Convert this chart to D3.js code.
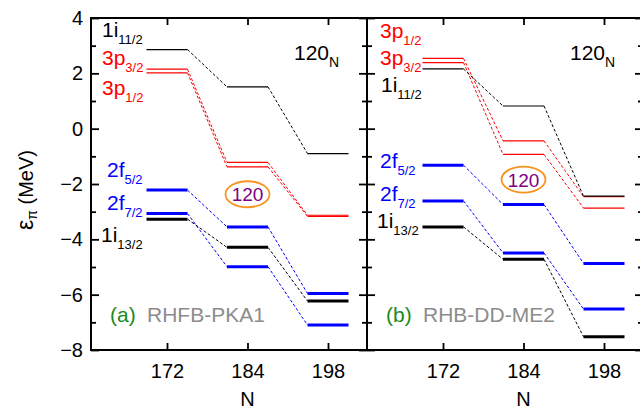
<!DOCTYPE html>
<html>
<head>
<meta charset="utf-8">
<script src="https://cdn.jsdelivr.net/npm/d3@7/dist/d3.min.js"></script>
<style>
body { margin: 0; background: #fff; }
svg text { font-family: "Liberation Sans", Arial, sans-serif; }
</style>
</head>
<body>
<svg id="chart" width="640" height="410"></svg>
<script>
// neutron numbers on the x axis
const nuclei = ['172', '184', '198'];
const yMajor = [-8, -6, -4, -2, 0, 2, 4];
const yMinor = [-7, -5, -3, -1, 1, 3];

// (a) RHFB-PKA1 single-proton levels (MeV)
const orbitalsA = ['1i11/2', '3p3/2', '3p1/2', '2f5/2', '2f7/2', '1i13/2'];
const energiesA = [
    [2.86, 1.51, -0.90],
    [2.15, -1.22, -3.13],
    [2.02, -1.38, -3.17],
    [-2.22, -3.55, -5.96],
    [-3.07, -4.99, -7.10],
    [-3.27, -4.29, -6.23]
];

// (b) RHB-DD-ME2
const orbitalsB = ['3p1/2', '3p3/2', '1i11/2', '2f5/2', '2f7/2', '1i13/2'];
const energiesB = [
    [2.54, -0.44, -2.46],
    [2.39, -0.93, -2.87],
    [2.16, 0.82, -2.44],
    [-1.32, -2.74, -4.87],
    [-2.61, -4.49, -6.52],
    [-3.55, -4.72, -7.52]
];

const panelTags = ['(a)', '(b)'];
const panelNames = ['RHFB-PKA1', 'RHB-DD-ME2'];

const levelStyle = {
    '1i11/2': {color: '#000', width: 1.2},
    '3p3/2': {color: '#ff0000', width: 1.2},
    '3p1/2': {color: '#ff0000', width: 1.2},
    '2f5/2': {color: '#0000ff', width: 3},
    '2f7/2': {color: '#0000ff', width: 3},
    '1i13/2': {color: '#000', width: 3}
};

// label anchor points (x, baseline y) in pixels
const labelPos = [
    {'1i11/2': [102, 37], '3p3/2': [102, 65], '3p1/2': [102, 95],
     '2f5/2': [107, 177], '2f7/2': [107, 210], '1i13/2': [101, 242]},
    {'3p1/2': [380, 38], '3p3/2': [380, 65], '1i11/2': [381, 92],
     '2f5/2': [380, 168], '2f7/2': [380, 201], '1i13/2': [377, 228]}
];

const svg = d3.select('#chart');
const top_y = 18, bottom_y = 350;
const y = d3.scaleLinear().domain([-8, 4]).range([bottom_y, top_y]);
const panels = [{left: 91, width: 276}, {left: 367, width: 276}];
const half_w = 20.5;

function style_axis(g) {
    g.select('.domain').remove();
    g.selectAll('.tick line').attr('stroke', '#000').attr('stroke-width', 1.8);
    g.selectAll('.tick text').attr('fill', '#000').attr('font-size', 20)
        .attr('font-family', '"Liberation Sans", Arial, sans-serif');
}

function add_label(g, text, sub, x0, y0, color, size, subSize) {
    let t = g.append('text').attr('x', x0).attr('y', y0)
        .attr('fill', color).attr('font-size', size);
    t.append('tspan').text(text);
    t.append('tspan').attr('font-size', subSize).attr('dy', 7).text(sub);
}

function draw_panel(idx, orbitals, energies) {
    const p = panels[idx];
    const x = d3.scalePoint().domain(nuclei).range([p.left + 76, p.left + 237]);
    const g = svg.append('g');

    // axes, ticks pointing inward on every side
    g.append('g').attr('transform', 'translate(0,' + bottom_y + ')')
        .call(d3.axisBottom(x).tickSize(-7).tickPadding(14))
        .call(style_axis);
    g.append('g').attr('transform', 'translate(0,' + top_y + ')')
        .call(d3.axisTop(x).tickSize(-7).tickFormat(''))
        .call(style_axis);
    g.append('g').attr('transform', 'translate(' + p.left + ',0)')
        .call(d3.axisLeft(y).tickValues(yMajor).tickSize(-8).tickPadding(8)
            .tickFormat(idx == 0 ? d3.format('d') : ''))
        .call(style_axis);
    g.append('g').attr('transform', 'translate(' + p.left + ',0)')
        .call(d3.axisLeft(y).tickValues(yMinor).tickSize(-5).tickFormat(''))
        .call(style_axis);
    g.append('g').attr('transform', 'translate(' + (p.left + p.width) + ',0)')
        .call(d3.axisRight(y).tickValues(yMajor).tickSize(-8).tickFormat(''))
        .call(style_axis);
    g.append('g').attr('transform', 'translate(' + (p.left + p.width) + ',0)')
        .call(d3.axisRight(y).tickValues(yMinor).tickSize(-5).tickFormat(''))
        .call(style_axis);

    g.append('rect')
        .attr('x', p.left).attr('y', top_y)
        .attr('width', p.width).attr('height', bottom_y - top_y)
        .attr('fill', 'none').attr('stroke', '#000').attr('stroke-width', 2);

    // dashed connectors between neighbouring nuclei
    let links = [];
    let levels = [];
    orbitals.forEach(function(orb, k) {
        let vals = energies[k];
        for (var i = 0; i < vals.length; i++) {
            levels.push({orb: orb, n: nuclei[i], e: vals[i]});
            if (i < vals.length - 1)
                links.push({orb: orb, n0: nuclei[i], e0: vals[i], n1: nuclei[i + 1], e1: vals[i + 1]});
        }
    });

    g.selectAll('line.link').data(links).join('line')
        .attr('class', 'link')
        .attr('x1', d => x(d.n0) + half_w).attr('y1', d => y(d.e0))
        .attr('x2', d => x(d.n1) - half_w).attr('y2', d => y(d.e1))
        .attr('stroke', d => levelStyle[d.orb].color)
        .attr('stroke-width', 1)
        .attr('stroke-dasharray', '3,2');

    g.selectAll('line.level').data(levels).join('line')
        .attr('class', 'level')
        .attr('x1', d => x(d.n) - half_w).attr('x2', d => x(d.n) + half_w)
        .attr('y1', d => y(d.e)).attr('y2', d => y(d.e))
        .attr('stroke', d => levelStyle[d.orb].color)
        .attr('stroke-width', d => levelStyle[d.orb].width);

    // orbital labels
    orbitals.forEach(function(orb) {
        let pos = labelPos[idx][orb];
        add_label(g, orb.slice(0, 2), orb.slice(2), pos[0], pos[1],
            levelStyle[orb].color, 21, 13);
    });

    add_label(g, '120', 'N', p.left + 203, 60, '#000', 21, 14);

    // the Z=120 marker
    let cx = x('184'), cy = idx == 0 ? y(-2.37) : y(-1.84);
    g.append('ellipse').attr('cx', cx).attr('cy', cy).attr('rx', 22).attr('ry', 13)
        .attr('fill', 'none').attr('stroke', '#f7931e').attr('stroke-width', 1.8);
    g.append('text').attr('x', cx).attr('y', cy + 7).attr('text-anchor', 'middle')
        .attr('fill', '#800080').attr('font-size', 19).text('120');

    g.append('text').attr('x', p.left + 19).attr('y', 322)
        .attr('fill', '#1a8c1a').attr('font-size', 21).text(panelTags[idx]);
    g.append('text').attr('x', p.left + 56).attr('y', 322)
        .attr('fill', '#8c8c8c').attr('font-size', 21).text(panelNames[idx]);

    g.append('text').attr('x', x('184')).attr('y', 406).attr('text-anchor', 'middle')
        .attr('fill', '#000').attr('font-size', 20).text('N');
}

draw_panel(0, orbitalsA, energiesA);
draw_panel(1, orbitalsB, energiesB);

// y axis title
let ylab = svg.append('text')
    .attr('transform', 'translate(33,190) rotate(-90)')
    .attr('text-anchor', 'middle').attr('fill', '#000').attr('font-size', 20);
ylab.append('tspan').attr('font-size', 23).text('\u03b5');
ylab.append('tspan').attr('font-size', 14).attr('dy', 4).text('\u03c0');
ylab.append('tspan').attr('dy', -4).text(' (MeV)');
</script>
</body>
</html>
